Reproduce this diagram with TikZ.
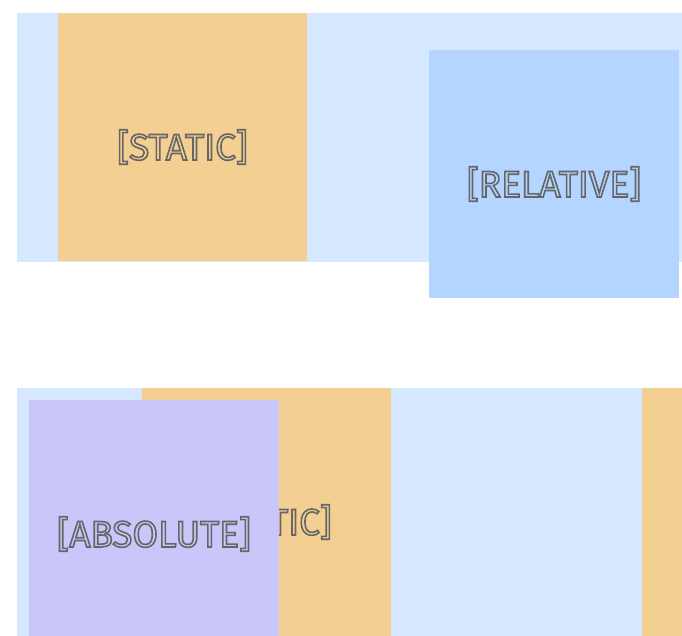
\documentclass[tikz,border=0pt]{standalone}
\usepackage{fontspec}
\setmainfont{Fira Sans}
\definecolor{contbg}{HTML}{D6E8FF}
\definecolor{statbg}{HTML}{F3CF91}
\definecolor{relbg}{HTML}{B3D5FF}
\definecolor{absbg}{HTML}{C9C7FA}
\definecolor{txtc}{HTML}{666666}
\newcommand{\outl}[1]{\special{pdf:code q 1 Tr 1.6 w}#1\special{pdf:code Q}}
\tikzset{
  lbl/.style={text=txtc, font=\fontsize{37}{40}\selectfont, inner sep=0pt, anchor=center}
}
\begin{document}
\begin{tikzpicture}[x=1pt,y=-1pt]
\useasboundingbox (0,0) rectangle (682,636);
\clip (0,0) rectangle (682,636);
% top container
\fill[contbg] (17,13) rectangle (682,262);
\fill[statbg] (58,13) rectangle (307,261);
\node[lbl] (s1) at (182.5,147) {\outl{[STATIC]}};
\fill[relbg] (429,50) rectangle (679,298);
\node[lbl] (r1) at (554,184) {\outl{[RELATIVE]}};
% bottom container
\fill[contbg] (17,388) rectangle (682,636);
\fill[statbg] (142,388) rectangle (391,636);
\node[lbl] (s2) at (266.5,522) {\outl{[STATIC]}};
\fill[statbg] (642,388) rectangle (682,636);
\fill[absbg] (29,400) rectangle (279,636);
\node[lbl] (a1) at (154,534) {\outl{[ABSOLUTE]}};
\end{tikzpicture}
\end{document}
